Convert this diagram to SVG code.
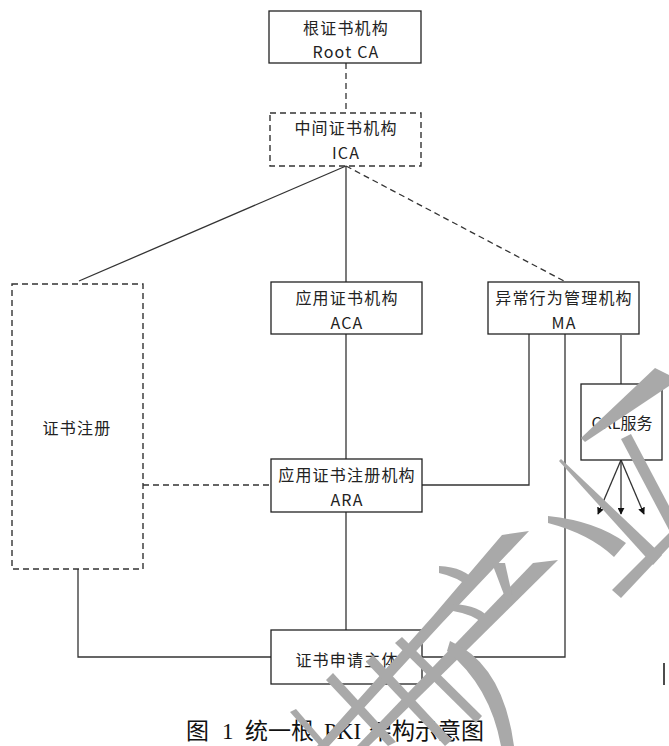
<svg xmlns="http://www.w3.org/2000/svg" width="669" height="746" viewBox="0 0 669 746">
<defs>
<style>
.box{fill:#fff;stroke:#222;stroke-width:1.3}
.dbox{fill:none;stroke:#333;stroke-width:1.4;stroke-dasharray:6 4}
.ln{fill:none;stroke:#333;stroke-width:1.3}
.dl{fill:none;stroke:#333;stroke-width:1.3;stroke-dasharray:6 4}
.t{font-family:"Noto Sans CJK SC","Noto Sans",sans-serif;font-size:16px;fill:#222;text-anchor:middle;letter-spacing:1.2px}
.cap{font-family:"Liberation Serif","Noto Sans CJK SC",serif;font-size:23px;fill:#111}
.wm{fill:#a9a9a9;stroke:none}
</style>
<marker id="arr" viewBox="0 0 10 10" refX="9" refY="5" markerWidth="7" markerHeight="7" orient="auto" markerUnits="userSpaceOnUse">
<path d="M0,0 L10,5 L0,10 Z" fill="#111"/>
</marker>
</defs>
<rect width="669" height="746" fill="#fff"/>
<g id="connectors">
<line class="dl" x1="346" y1="63" x2="346" y2="113"/>
<line class="ln" x1="346" y1="166" x2="79" y2="281"/>
<line class="ln" x1="346" y1="166" x2="346" y2="282"/>
<line class="dl" x1="346" y1="166" x2="564" y2="281"/>
<line class="ln" x1="346" y1="334" x2="346" y2="459"/>
<line class="ln" x1="346" y1="512" x2="346" y2="630"/>
<line class="dl" x1="143" y1="485" x2="271" y2="485"/>
<polyline class="ln" points="422,485 529,485 529,334"/>
<polyline class="ln" points="565,334 565,657 422,657"/>
<polyline class="ln" points="78,569 78,657 271,657"/>
<line class="ln" x1="621" y1="335" x2="621" y2="384"/>
<line class="ln" x1="621" y1="460" x2="598" y2="514" marker-end="url(#arr)"/>
<line class="ln" x1="621" y1="460" x2="621" y2="514" marker-end="url(#arr)"/>
<line class="ln" x1="621" y1="460" x2="644" y2="514" marker-end="url(#arr)"/>
</g>
<g id="root-ca">
<rect class="box" x="269" y="11" width="152" height="52"/>
<text class="t" x="346" y="34">根证书机构</text>
<text class="t" x="346" y="58">Root CA</text>
</g>
<g id="ica">
<rect class="dbox" x="270" y="113" width="151" height="53"/>
<text class="t" x="346" y="134">中间证书机构</text>
<text class="t" x="346" y="159">ICA</text>
</g>
<g id="aca">
<rect class="box" x="271" y="282" width="151" height="52"/>
<text class="t" x="347" y="304">应用证书机构</text>
<text class="t" x="347" y="329">ACA</text>
</g>
<g id="ma">
<rect class="box" x="488" y="282" width="151" height="52"/>
<text class="t" x="564" y="304">异常行为管理机构</text>
<text class="t" x="564" y="329">MA</text>
</g>
<g id="reg">
<rect class="dbox" x="12" y="284" width="131" height="285"/>
<text class="t" x="77" y="434">证书注册</text>
</g>
<g id="ara">
<rect class="box" x="271" y="459" width="151" height="53"/>
<text class="t" x="347" y="481">应用证书注册机构</text>
<text class="t" x="347" y="506">ARA</text>
</g>
<g id="applicant">
<rect class="box" x="271" y="630" width="151" height="54"/>
<text class="t" x="347" y="666">证书申请主体</text>
</g>
<g id="crl">
<rect class="box" x="581" y="384" width="81" height="76"/>
<text class="t" x="622" y="429" style="letter-spacing:0">CRL服务</text>
</g>
<line x1="664" y1="663" x2="664" y2="685" stroke="#111" stroke-width="1.5"/>
<text class="cap" y="739"><tspan x="186">图</tspan><tspan x="222">1</tspan><tspan x="245">统一根</tspan><tspan x="324">PKI</tspan><tspan x="369">架构示意图</tspan></text>
<g id="watermark">
<polygon class="wm" points="655,368 669,375 669,386 585,442 581,438"/>
<polygon class="wm" points="559,461 561,459 662,555 653,565"/>
<path class="wm" d="M548,516 Q596,521 626,543 L614,557 Q590,534 548,523 Z"/>
<polygon class="wm" points="621,439 631,434 669,506 669,530"/>
<polygon class="wm" points="669,533 669,547 621,598 612,590"/>
<polygon class="wm" points="502,535 529,531 441,624 329,746 317,746 433,616"/>
<polygon class="wm" points="533,563 558,560 466,651 369,746 357,746 456,643"/>
<path class="wm" d="M450,641 Q503,664 514,746 L501,746 Q490,686 447,651 Z"/>
<path class="wm" d="M439,566 Q465,567 477,583 L470,588 Q458,577 439,573 Z"/>
<path class="wm" d="M453,604 Q480,605 491,620 L484,624 Q472,614 453,611 Z"/>
<polygon class="wm" points="492,563 505,563 513,599 506,600"/>
<polygon class="wm" points="326,680 333,673 396,742 388,746"/>
<polygon class="wm" points="366,662 373,655 452,740 445,746"/>
<polygon class="wm" points="395,643 402,637 482,716 476,723"/>
<polygon class="wm" points="290,712 296,709 328,746 320,746"/>
</g>
</svg>
